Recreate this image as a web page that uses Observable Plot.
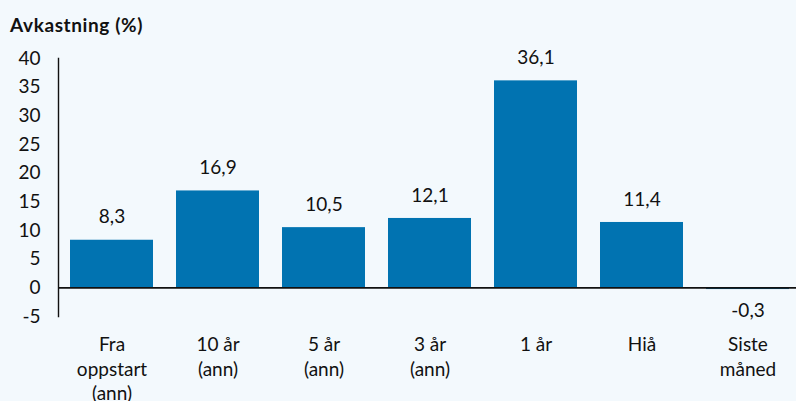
<!DOCTYPE html>
<html>
<head>
<meta charset="utf-8">
<script src="https://cdn.jsdelivr.net/npm/d3@7"></script>
<script src="https://cdn.jsdelivr.net/npm/@observablehq/plot@0.6"></script>
<style>
  html, body { margin: 0; padding: 0; background: #f3f9fd; }
  body { width: 796px; height: 401px; overflow: hidden; font-family: Lato, "Noto Sans", sans-serif; }
  #title { height: 45px; box-sizing: border-box; padding: 14px 0 0 10px; font-size: 19px; letter-spacing: 0.6px; font-weight: 700; color: #111; line-height: 22px; }
  #chart svg { display: block; overflow: visible; }
</style>
</head>
<body>
<div id="title">Avkastning (%)</div>
<div id="chart"></div>
<script>
const categories = ["Fra\noppstart\n(ann)", "10 år\n(ann)", "5 år\n(ann)", "3 år\n(ann)", "1 år", "Hiå", "Siste\nmåned"];
const values = [8.3, 16.9, 10.5, 12.1, 36.1, 11.4, -0.3];
const yTicks = [-5, 0, 5, 10, 15, 20, 25, 30, 35, 40];

const data = categories.map((c, i) => ({cat: c, value: values[i]}));
const fmt = v => d3.format(".1f")(v).replace(".", ",").replace("−", "-");

const chart = Plot.plot({
  width: 796,
  height: 356,
  marginLeft: 58,
  marginRight: 0,
  marginTop: 13,
  marginBottom: 85,
  style: {background: "transparent", fontFamily: "Lato, 'Noto Sans', sans-serif", fontSize: "19px", color: "#111"},
  x: {domain: categories, range: [56.5, 801.5], paddingInner: 0.22, paddingOuter: 0.1, label: null},
  y: {domain: [-5, 40], label: null},
  marks: [
    Plot.barY(data, {x: "cat", y: "value", fill: "#0173b1"}),
    Plot.ruleY([0], {stroke: "#111", strokeWidth: 1.6}),
    Plot.frame({anchor: "left", stroke: "#111", strokeWidth: 1.4}),
    Plot.axisY({ticks: yTicks, tickSize: 0, tickPadding: 18, tickFormat: d => String(d).replace("−", "-"), fontSize: 19, fill: "#111", label: null}),
    Plot.axisX({tickSize: 0, tickPadding: 17, lineAnchor: "top", lineHeight: 1.3, fontSize: 19, fill: "#111", label: null}),
    Plot.text(data.filter(d => d.value >= 0), {x: "cat", y: "value", text: d => fmt(d.value), dy: -23, fontSize: 19, fill: "#111"}),
    Plot.text(data.filter(d => d.value < 0), {x: "cat", y: "value", text: d => fmt(d.value), dy: 21, fontSize: 19, fill: "#111"})
  ]
});
document.getElementById("chart").appendChild(chart);
</script>
</body>
</html>
